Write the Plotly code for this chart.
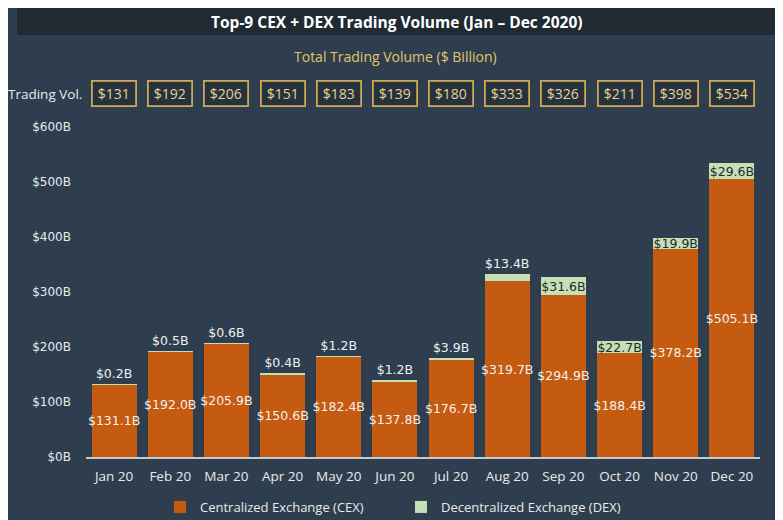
import plotly.graph_objects as go

months = ["Jan 20", "Feb 20", "Mar 20", "Apr 20", "May 20", "Jun 20",
          "Jul 20", "Aug 20", "Sep 20", "Oct 20", "Nov 20", "Dec 20"]
cex = [131.1, 192.0, 205.9, 150.6, 182.4, 137.8, 176.7, 319.7, 294.9, 188.4, 378.2, 505.1]
dex = [0.2, 0.5, 0.6, 0.4, 1.2, 1.2, 3.9, 13.4, 31.6, 22.7, 19.9, 29.6]
totals = [131, 192, 206, 151, 183, 139, 180, 333, 326, 211, 398, 534]
y_ticks = [0, 100, 200, 300, 400, 500, 600]

BG = "#2e3e4e"
TITLE_BG = "#1f2a33"
ORANGE = "#c55a11"
GREEN = "#c5e0b4"
GOLD = "#c9a951"
GOLD_TXT = "#ead38a"
TXT = "#eaeaea"
SANS = "Open Sans, Noto Sans, sans-serif"
DV = "DejaVu Sans, sans-serif"

OFF = 8  # page body margin
W, H = 783 - OFF, 520 - OFF
L, R, T, B = 86 - OFF, 23, 127 - OFF, 63
pw, ph = W - L - R, H - T - B

def px_x(x):
    return (x - OFF - L) / pw

def px_y(y):
    return (H - B - (y - OFF)) / ph

dex_pos = ["outside" if d < 15 else "inside" for d in dex]
dex_col = ["#f0f0f0" if p == "outside" else "#1f2a33" for p in dex_pos]

fig = go.Figure()
fig.add_trace(go.Bar(
    x=months, y=cex, name="Centralized Exchange (CEX)",
    marker=dict(color=ORANGE, line=dict(width=0)),
    text=[f"${v:.1f}B" for v in cex],
    textposition="inside", insidetextanchor="middle", textangle=0,
    constraintext="none",
    textfont=dict(family=DV, size=12.5, color="#f5f0ea"),
    cliponaxis=False, hoverinfo="skip",
))
fig.add_trace(go.Bar(
    x=months, y=dex, name="Decentralized Exchange (DEX)",
    marker=dict(color=GREEN, line=dict(width=0)),
    text=[f"${v:.1f}B" for v in dex],
    textposition=dex_pos, insidetextanchor="middle", textangle=0,
    constraintext="none",
    textfont=dict(family=DV, size=12.5, color=dex_col),
    cliponaxis=False, hoverinfo="skip",
))

annotations = [
    dict(text="<b>Top-9 CEX + DEX Trading Volume (Jan – Dec 2020)</b>",
         xref="paper", yref="paper", x=px_x(397), y=px_y(21.5),
         xanchor="center", yanchor="middle", showarrow=False,
         font=dict(family=SANS, size=15.5, color="#ffffff")),
    dict(text="Total Trading Volume ($ Billion)",
         xref="paper", yref="paper", x=px_x(395), y=px_y(56),
         xanchor="center", yanchor="middle", showarrow=False,
         font=dict(family=SANS, size=14, color="#e2c46a")),
    dict(text="Trading Vol.",
         xref="paper", yref="paper", x=px_x(84), y=px_y(94),
         xanchor="right", yanchor="middle", showarrow=False,
         font=dict(family=SANS, size=13.5, color=TXT)),
]
for m, t in zip(months, totals):
    annotations.append(dict(
        text=f"${t}", xref="x", yref="paper", x=m, y=px_y(93),
        xanchor="center", yanchor="middle", showarrow=False,
        width=40, height=21, borderpad=1, borderwidth=1.8,
        bordercolor=GOLD, bgcolor="#26323f",
        font=dict(family=SANS, size=14, color=GOLD_TXT)))

shapes = [dict(type="rect", xref="paper", yref="paper",
               x0=px_x(17), x1=px_x(776), y0=px_y(35), y1=px_y(8),
               fillcolor=TITLE_BG, line=dict(width=0), layer="below")]

fig.update_layout(
    width=W, height=H,
    margin=dict(l=L, r=R, t=T, b=B, pad=0),
    paper_bgcolor=BG, plot_bgcolor=BG,
    barmode="stack", bargap=0.2,
    showlegend=True,
    legend=dict(orientation="h", traceorder="normal",
                xref="paper", x=px_x(401), xanchor="center",
                yref="container", y=(H - (507 - OFF)) / H, yanchor="middle",
                font=dict(family=SANS, size=13, color=TXT),
                bgcolor="rgba(0,0,0,0)", entrywidth=196, entrywidthmode="pixels"),
    xaxis=dict(showgrid=False, showline=True, linecolor="#c8c8c8", linewidth=1.5,
               ticks="", tickfont=dict(family=SANS, size=13.5, color=TXT),
               ticklabelstandoff=6, fixedrange=True, automargin=False),
    yaxis=dict(range=[0, 600], tickvals=y_ticks,
               ticktext=[f"${v}B" for v in y_ticks],
               showgrid=False, zeroline=False, showline=False,
               tickfont=dict(family=DV, size=12, color=TXT),
               ticklabelstandoff=14, fixedrange=True, automargin=False),
    annotations=annotations, shapes=shapes,
)

fig.write_html("out.html")
